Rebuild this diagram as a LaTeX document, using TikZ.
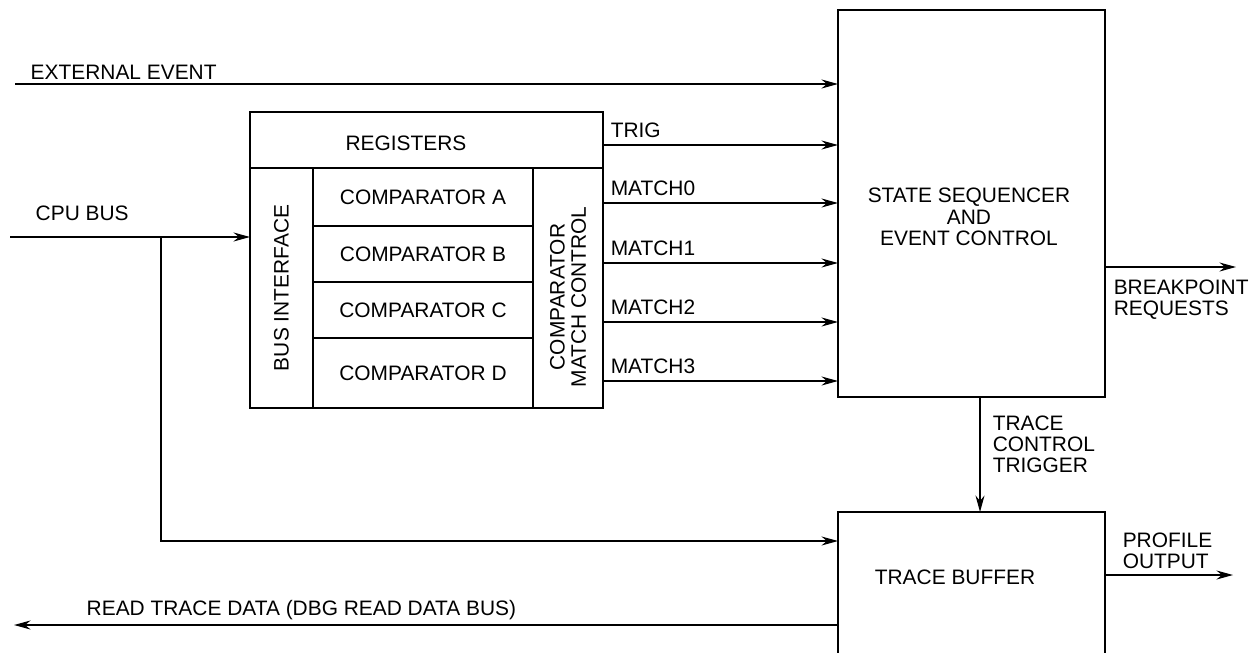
\documentclass[tikz,border=0pt]{standalone}
\usepackage{fontspec}
\setmainfont{Liberation Sans}
\usetikzlibrary{positioning, calc}
\usetikzlibrary{arrows.meta}

\begin{document}
\begin{tikzpicture}[x=0.02cm, y=-0.02cm, font=\fontsize{11.9}{12.1}\selectfont, align=center, >={Stealth[length=3.3mm, width=1.8mm]}, line width=0.85pt]
        % Styles
        \tikzset{blk/.style={draw, rectangle, outer sep=0pt, inner sep=0pt},
                 lbl/.style={inner sep=0pt, align=left}}

        % Frame
        \useasboundingbox (0,0) rectangle (1256,652);
        \clip (0,0) rectangle (1256,652);

        % Nodes
        \node[blk, minimum width=5.34cm, minimum height=7.74cm] (state) at (971.5,203.5) {};
        \node (statetxt) at (969,217) {STATE SEQUENCER\\AND\\EVENT CONTROL};
        \node[blk, minimum width=5.34cm, minimum height=4.96cm] (tbuf) at (971.5,636) {};
        \node (tbuftxt) at (955,577) {TRACE BUFFER};

        \node[blk, minimum width=7.06cm, minimum height=1.12cm] (regs) at (426.5,140) {};
        \node (regstxt) at (406,143) {REGISTERS};
        \node[blk, minimum width=1.26cm, minimum height=4.8cm, below right=0pt and 0pt of regs.south west] (busif) {};
        \node[rotate=90] (busiftxt) at (busif.center) {BUS INTERFACE};
        \node[blk, minimum width=4.4cm, minimum height=1.16cm, below right=0pt and 0pt of busif.north east] (compA) {COMPARATOR A};
        \node[blk, minimum width=4.4cm, minimum height=1.12cm, below=0pt of compA] (compB) {COMPARATOR B};
        \node[blk, minimum width=4.4cm, minimum height=1.12cm, below=0pt of compB] (compC) {COMPARATOR C};
        \node[blk, minimum width=4.4cm, minimum height=1.4cm, below=0pt of compC] (compD) {COMPARATOR D};
        \node[blk, minimum width=1.4cm, minimum height=4.8cm, below right=0pt and 0pt of compA.north east] (matchctl) {};
        \node[rotate=90] (matchtxt) at ([yshift=-0.18cm]matchctl.center) {COMPARATOR\\MATCH CONTROL};

        % Labels
        \node[lbl, anchor=base west] (extlbl) at (30,80) {EXTERNAL EVENT};
        \node[lbl, anchor=base west] (cpulbl) at (35,220) {CPU BUS};
        \node[lbl, anchor=base west] (rdlbl) at (86,615) {READ TRACE DATA (DBG READ DATA BUS)};
        \node[lbl, anchor=north west] (bplbl) at (1113,279) {BREAKPOINT\\REQUESTS};
        \node[lbl, anchor=north west] (tctlbl) at (992,415) {TRACE\\CONTROL\\TRIGGER};
        \node[lbl, anchor=north west] (pflbl) at (1122,532) {PROFILE\\OUTPUT};

        % Coordinates
        \coordinate (extin) at (15,84);
        \coordinate (cpuin) at (10,237);
        \coordinate (branch) at (161,237);
        \coordinate (tbin) at (161,541);
        \coordinate (rdout) at (14,625);
        \coordinate (bpout) at (1236,267);
        \coordinate (pfout) at (1233,575);

        % Edges
        \draw[->] (extin) -- (extin -| state.west);
        \draw[->] (cpuin) -- (cpuin -| busif.west);
        \draw[->] (branch) -- (tbin) -- (tbin -| tbuf.west);
        \draw[->] (rdout -| tbuf.west) -- (rdout);
        \draw[->] (bpout -| state.east) -- (bpout);
        \draw[->] (pfout -| tbuf.east) -- (pfout);
        \draw[->] (state.south -| 980,0) -- (tbuf.north -| 980,0);
        \foreach \y/\t in {145/TRIG, 203/MATCH0, 263/MATCH1, 322/MATCH2, 381/MATCH3} {
            \draw[->] (matchctl.east |- 0,\y) -- (state.west |- 0,\y) node[pos=0, above right, inner sep=4pt] {\t};
        }
    \end{tikzpicture}
\end{document}
